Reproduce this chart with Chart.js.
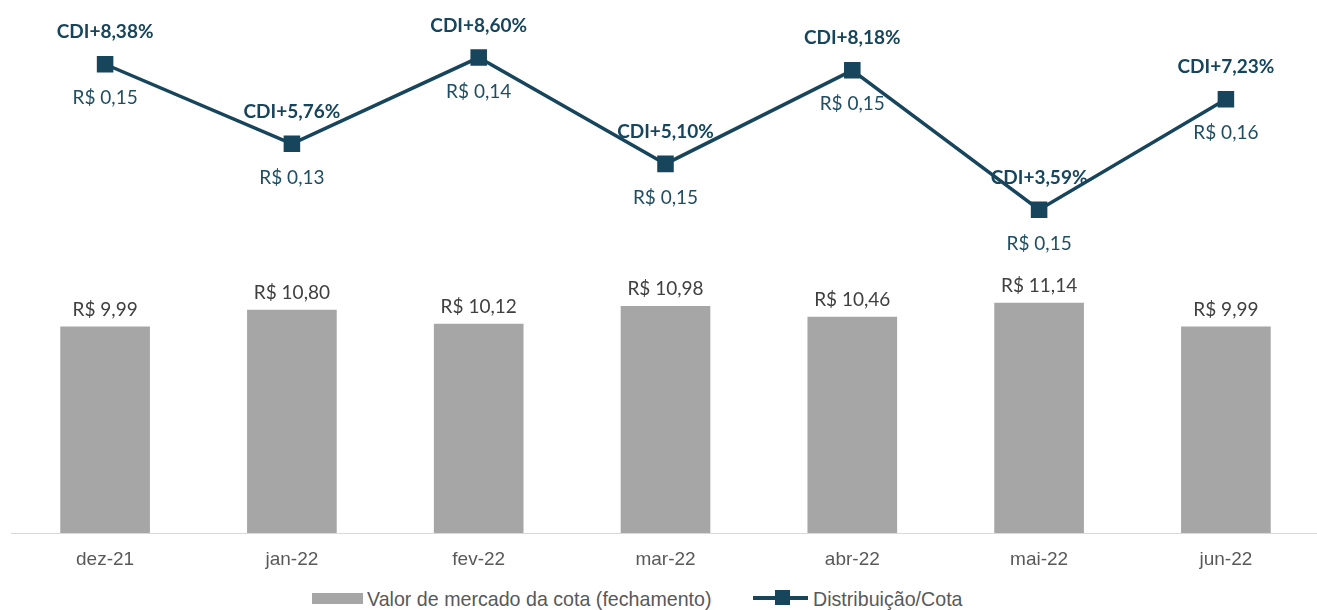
<!DOCTYPE html>
<html>
<head>
<meta charset="utf-8">
<script src="https://cdn.jsdelivr.net/npm/chart.js@4.4.1/dist/chart.umd.min.js"></script>
<style>
    body { margin: 0; background: #fff; }
    #wrap { position: relative; width: 1317px; height: 610px; overflow: hidden; }
    #chartBox { position: absolute; left: 0; top: 0; width: 1331px; height: 575px; }
    .legend { position: absolute; font-family: 'Liberation Sans', Arial, sans-serif; font-size: 21px; color: #595959; line-height: 24px; white-space: nowrap; }
    .narrow { display: inline-block; transform: scaleX(0.935); transform-origin: left center; }
</style>
</head>
<body>
<div id="wrap">
    <div id="chartBox"><canvas id="mainChart" width="1331" height="575"></canvas></div>
    <div style="position:absolute;left:312px;top:593px;width:51px;height:11px;background:#a6a6a6;"></div>
    <div class="legend" style="left:367px;top:587px;"><span class="narrow">Valor de mercado da cota (fechamento)</span></div>
    <div style="position:absolute;left:753px;top:596px;width:55px;height:4px;background:#17455c;"></div>
    <div style="position:absolute;left:775px;top:590px;width:15px;height:15px;background:#17455c;"></div>
    <div class="legend" style="left:813px;top:587px;"><span class="narrow">Distribuição/Cota</span></div>
</div>
<script>
const months = ['dez-21', 'jan-22', 'fev-22', 'mar-22', 'abr-22', 'mai-22', 'jun-22'];
const marketValue = [9.99, 10.80, 10.12, 10.98, 10.46, 11.14, 9.99];
const cdiSpread = [8.38, 5.76, 8.60, 5.10, 8.18, 3.59, 7.23];
const distribution = [0.15, 0.13, 0.14, 0.15, 0.15, 0.15, 0.16];

const lineColor = '#17455c';
const barColor = '#a6a6a6';

function brl(v) {
    return 'R$ ' + v.toFixed(2).replace('.', ',');
}

function pct(v) {
    return 'CDI+' + v.toFixed(2).replace('.', ',') + '%';
}

const labelPlugin = {
    id: 'valueLabels',
    afterDatasetsDraw(chart) {
        const ctx = chart.ctx;
        ctx.save();
        ctx.textAlign = 'center';
        ctx.textBaseline = 'middle';

        const bars = chart.getDatasetMeta(1).data;
        ctx.font = '19px Lato, sans-serif';
        ctx.fillStyle = '#404040';
        bars.forEach((bar, i) => {
            ctx.fillText(brl(marketValue[i]), bar.x, bar.y - 17);
        });

        const points = chart.getDatasetMeta(0).data;
        points.forEach((pt, i) => {
            ctx.fillStyle = lineColor;
            ctx.font = 'bold 19px Lato, sans-serif';
            ctx.fillText(pct(cdiSpread[i]), pt.x, pt.y - 32);
            ctx.fillStyle = '#1f4e62';
            ctx.font = '19px Lato, sans-serif';
            ctx.fillText(brl(distribution[i]), pt.x, pt.y + 34);
        });
        ctx.restore();
    }
};

function renderChart() {
    const ctx = document.getElementById('mainChart').getContext('2d');
    new Chart(ctx, {
        type: 'bar',
        data: {
            labels: months,
            datasets: [{
                type: 'line',
                label: 'Distribuição/Cota',
                data: cdiSpread,
                yAxisID: 'y1',
                borderColor: lineColor,
                backgroundColor: lineColor,
                borderWidth: 3.5,
                pointStyle: 'rect',
                pointRadius: 11.7,
                pointBorderWidth: 0,
                tension: 0,
                order: 0
            }, {
                label: 'Valor de mercado da cota (fechamento)',
                data: marketValue,
                yAxisID: 'y',
                backgroundColor: barColor,
                categoryPercentage: 1,
                barPercentage: 0.48,
                order: 1
            }]
        },
        options: {
            responsive: false,
            animation: false,
            layout: { padding: { left: 11, right: 0, top: 0, bottom: 0 } },
            plugins: {
                legend: { display: false },
                tooltip: { enabled: false }
            },
            scales: {
                x: {
                    grid: { display: false, drawTicks: false },
                    border: { display: true, color: '#d9d9d9', width: 1 },
                    ticks: {
                        color: '#595959',
                        padding: 15,
                        font: { family: "'Liberation Sans', Arial", size: 19 }
                    },
                    afterFit(scale) { scale.height = 42; }
                },
                y: { display: false, min: 0, max: 25.22 },
                y1: { display: false, min: -7.05, max: 10.11 }
            }
        },
        plugins: [labelPlugin]
    });
}

renderChart();
</script>
</body>
</html>
